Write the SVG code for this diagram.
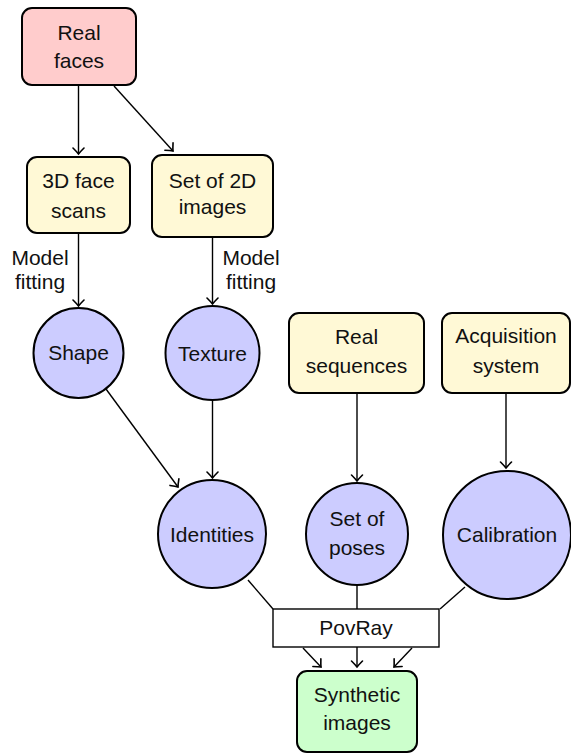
<svg xmlns="http://www.w3.org/2000/svg" width="571" height="754" viewBox="0 0 571 754">
<defs>
<marker id="arr" markerUnits="userSpaceOnUse" viewBox="-8 -7 10 14" markerWidth="10" markerHeight="14" refX="0" refY="0" orient="auto">
<path d="M-6,-5.5 Q-2,-1.5 0,0 Q-2,1.5 -6,5.5" fill="none" stroke="#000" stroke-width="1.6" stroke-linecap="round"/>
</marker>
<style>
text{font-family:"Liberation Sans",Arial,sans-serif;font-size:21px;fill:#111;text-anchor:middle}
.box{stroke:#000;stroke-width:2}
.circ{fill:#ccccff;stroke:#000;stroke-width:2}
.yel{fill:#fff9d6}
.c{fill:none;stroke:#000;stroke-width:1.4}
.a{marker-end:url(#arr)}
</style>
</defs>
<rect width="571" height="754" fill="#fff"/>
<g id="connectors">
<line class="c a" x1="78.5" y1="85" x2="78.5" y2="154"/>
<line class="c a" x1="114" y1="86" x2="173" y2="151"/>
<line class="c a" x1="78.5" y1="233" x2="78.5" y2="306"/>
<line class="c a" x1="212.5" y1="237" x2="212.5" y2="304"/>
<line class="c a" x1="106" y1="389" x2="178" y2="487"/>
<line class="c a" x1="212.5" y1="400" x2="212.5" y2="478"/>
<line class="c a" x1="357" y1="393" x2="357" y2="481"/>
<line class="c a" x1="506" y1="393" x2="506" y2="468"/>
<line class="c" x1="248" y1="580" x2="273" y2="609"/>
<line class="c" x1="357" y1="585" x2="357" y2="609"/>
<line class="c" x1="465" y1="587" x2="440" y2="609"/>
<line class="c a" x1="303" y1="648" x2="321" y2="667"/>
<line class="c a" x1="357" y1="647" x2="357" y2="667"/>
<line class="c a" x1="412" y1="648" x2="394" y2="667"/>
<text x="40" y="265">Model</text>
<text x="40" y="289">fitting</text>
<text x="251" y="265">Model</text>
<text x="251" y="289">fitting</text>
</g>
<g id="real-faces">
<rect class="box" x="22" y="8" width="114" height="77" rx="10" fill="#ffcccc"/>
<text x="79" y="40">Real</text>
<text x="79" y="68">faces</text>
</g>
<g id="face-scans">
<rect class="box yel" x="27" y="157" width="103" height="76" rx="10"/>
<text x="78.5" y="188">3D face</text>
<text x="78.5" y="218">scans</text>
</g>
<g id="images-2d">
<rect class="box yel" x="152" y="155" width="121" height="82" rx="10"/>
<text x="212.5" y="188">Set of 2D</text>
<text x="212.5" y="214">images</text>
</g>
<g id="shape">
<circle class="circ" cx="78.5" cy="353" r="45"/>
<text x="78.5" y="360">Shape</text>
</g>
<g id="texture">
<circle class="circ" cx="212.5" cy="353" r="47"/>
<text x="212.5" y="361">Texture</text>
</g>
<g id="real-sequences">
<rect class="box yel" x="289" y="313" width="135" height="80" rx="10"/>
<text x="356.5" y="344">Real</text>
<text x="356.5" y="373">sequences</text>
</g>
<g id="acquisition-system">
<rect class="box yel" x="442" y="313" width="128" height="80" rx="10"/>
<text x="506" y="343">Acquisition</text>
<text x="506" y="373">system</text>
</g>
<g id="identities">
<circle class="circ" cx="212" cy="534" r="54"/>
<text x="212" y="542">Identities</text>
</g>
<g id="set-of-poses">
<circle class="circ" cx="357" cy="534" r="51"/>
<text x="357" y="526">Set of</text>
<text x="357" y="555">poses</text>
</g>
<g id="calibration">
<circle class="circ" cx="507" cy="535" r="64"/>
<text x="507" y="542">Calibration</text>
</g>
<g id="povray">
<rect x="273" y="609" width="166" height="38" fill="#fff" stroke="#000" stroke-width="1.4"/>
<text x="356" y="635">PovRay</text>
</g>
<g id="synthetic-images">
<rect class="box" x="297" y="671" width="120" height="81" rx="10" fill="#ccffcc"/>
<text x="357" y="702">Synthetic</text>
<text x="357" y="730">images</text>
</g>
</svg>
